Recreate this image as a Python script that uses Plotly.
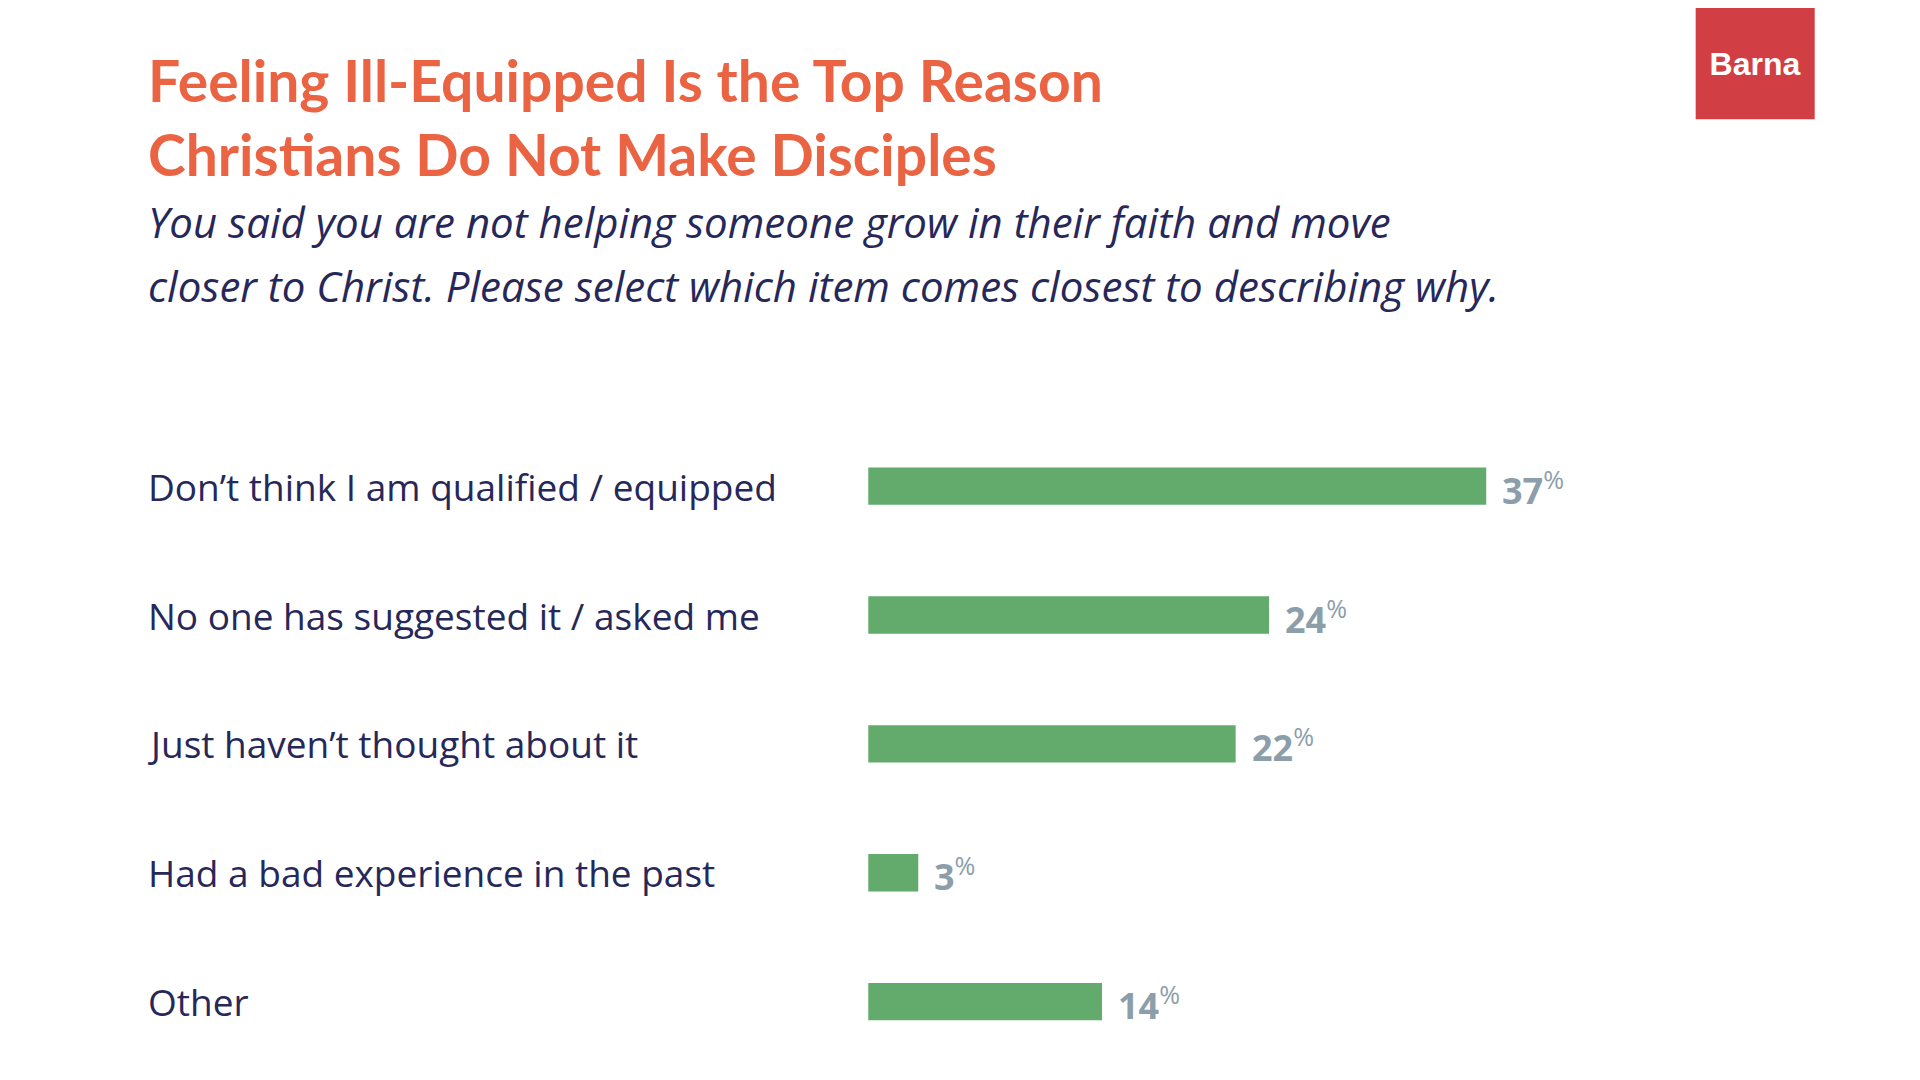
import plotly.graph_objects as go

categories = ["Don’t think I am qualified / equipped", "No one has suggested it / asked me",
              "Just haven’t thought about it", "Had a bad experience in the past", "Other"]
values = [37, 24, 22, 3, 14]

ypos = [len(categories) - 1 - i for i in range(len(categories))]

fig = go.Figure()
fig.add_trace(go.Bar(
    x=values, y=ypos, orientation="h", width=0.29,
    marker=dict(color="#62ab6c", line=dict(width=0)), hoverinfo="skip"))

for c, y, v in zip(categories, ypos, values):
    fig.add_annotation(x=0.072, xref="paper", y=y, yref="y", text=c, showarrow=False,
                       xanchor="left", yanchor="middle",
                       font=dict(family="Open Sans", size=37, color="#27285a"))
    fig.add_annotation(x=v, xref="x", y=y, yref="y", text=f"<b>{v}</b><sup>%</sup>", showarrow=False,
                       xanchor="left", yanchor="middle", xshift=14, yshift=-2,
                       font=dict(family="Open Sans", size=36, color="#8d9eab"))

fig.add_annotation(x=0.072, xref="paper", y=0.967, yref="paper", xanchor="left", yanchor="top",
                   align="left", showarrow=False,
                   text="<b>Feeling Ill-Equipped Is the Top Reason<br>Christians Do Not Make Disciples</b>",
                   font=dict(family="Lato", size=57, color="#ea6443"))
sub = ["You said you are not helping someone grow in their faith and move",
       "closer to Christ. Please select which item comes closest to describing why."]
for i, s in enumerate(sub):
    fig.add_annotation(x=0.072, xref="paper", y=0.802 - i * 0.059, yref="paper", xanchor="left",
                       yanchor="middle", showarrow=False, text=f"<i>{s}</i>",
                       font=dict(family="Open Sans", size=42, color="#27285a"))
fig.add_shape(type="rect", xref="paper", yref="paper", x0=0.879, x1=0.941, y0=0.897, y1=1.02,
              fillcolor="#d13f44", line=dict(width=0))
fig.add_annotation(x=0.91, xref="paper", y=0.948, yref="paper", showarrow=False,
                   xanchor="center", yanchor="middle", width=110,
                   text="<b>Barna</b>", font=dict(family="Liberation Sans", size=32, color="white"))

fig.update_layout(
    width=1920, height=1080, margin=dict(l=0, r=0, t=0, b=0),
    plot_bgcolor="white", paper_bgcolor="white", showlegend=False,
    xaxis=dict(domain=[0.448, 0.95], range=[0, 57.7], visible=False),
    yaxis=dict(domain=[0, 1], range=[-0.67, 7.71], visible=False),
)
fig.write_html("out.html")
